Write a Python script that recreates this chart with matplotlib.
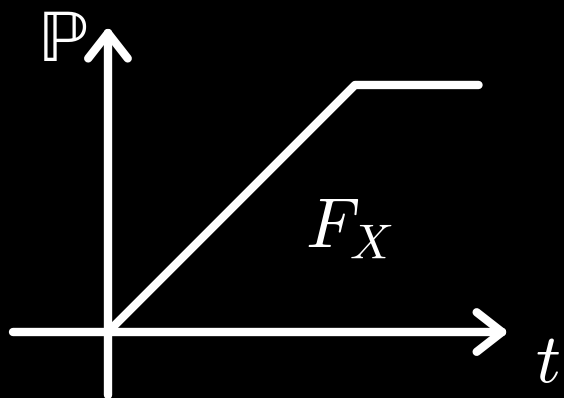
import numpy as np
import matplotlib.pyplot as plt

plt.rcParams['mathtext.fontset'] = 'cm'

# CDF of a uniform variable: ramp from 0 to 1, then flat
t = [0.0, 1.0, 1.5]
F = [0.0, 1.0, 1.0]

x_axis = [-0.385, 1.595]
y_axis = [-0.255, 1.21]

fig = plt.figure(figsize=(5.64, 3.98), dpi=100, facecolor='black')
ax = fig.add_axes([0, 0, 1, 1])
ax.set_facecolor('black')
ax.set_xlim(-0.437, 1.846)
ax.set_ylim(-0.267, 1.344)
ax.axis('off')

lw = 6
kw = dict(color='white', lw=lw, solid_capstyle='round', solid_joinstyle='round')

# axes
ax.plot(x_axis, [0, 0], **kw)
ax.plot([0, 0], y_axis, **kw)


def arrow_head(tip, direction, length=0.13, angle=38):
    d = np.array(direction, dtype=float)
    for s in (1, -1):
        a = np.deg2rad(180 + s * angle)
        rot = np.array([[np.cos(a), -np.sin(a)], [np.sin(a), np.cos(a)]])
        end = np.array(tip) + length * rot @ d
        ax.plot([tip[0], end[0]], [tip[1], end[1]], **kw)


arrow_head((x_axis[1], 0), (1, 0))
arrow_head((0, y_axis[1]), (0, 1))

# distribution function
ax.plot(t, F, **kw)

ax.text(-0.28, 1.097, '\u2119', color='white', fontsize=54,
        family='STIXGeneral', ha='left', va='baseline')
ax.text(1.83, -0.258, r'$t$', color='white', fontsize=50,
        ha='right', va='bottom')
ax.text(0.798, 0.340, r'$F_X$', color='white', fontsize=50,
        ha='left', va='baseline')

fig.savefig('out.png', dpi=100, facecolor='black')
